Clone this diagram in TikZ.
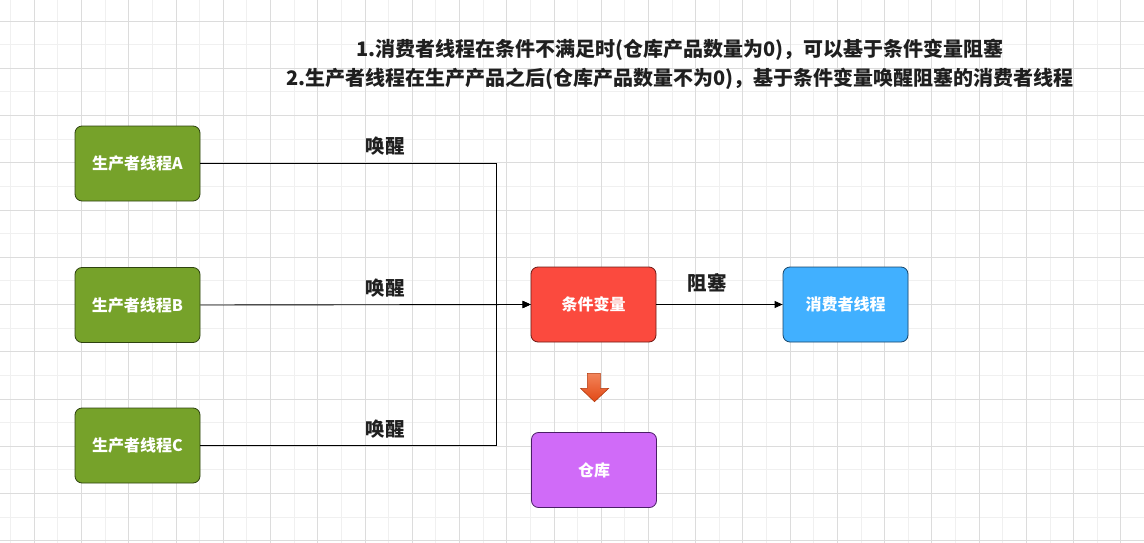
\documentclass[tikz,border=0pt]{standalone}
\usepackage{fontspec}
\setmainfont{Noto Sans CJK SC}
\usetikzlibrary{arrows.meta}
\definecolor{gA}{HTML}{76A22A}
\definecolor{gAb}{HTML}{2E4210}
\definecolor{rC}{HTML}{FB4A3E}
\definecolor{rCb}{HTML}{6E1A16}
\definecolor{bC}{HTML}{41B0FF}
\definecolor{bCb}{HTML}{17456A}
\definecolor{pC}{HTML}{D06BF8}
\definecolor{pCb}{HTML}{4A1E66}
\definecolor{gridlight}{HTML}{F0F0F0}
\definecolor{griddark}{HTML}{DCDCDC}
\definecolor{arrtop}{HTML}{F2845A}
\definecolor{arrbot}{HTML}{E24814}
\definecolor{arrbd}{HTML}{B23A0E}
\tikzset{
  box/.style={draw, rounded corners=7pt, minimum width=125pt, minimum height=75pt,
    line width=0.8pt, text=white, inner sep=0pt,
    font=\fontsize{16}{19}\selectfont\bfseries},
  conn/.style={draw=black, line width=0.9pt},
  tipped/.style={conn, -{Triangle[length=8pt,width=7pt]}},
  lbl/.style={font=\fontsize{19.5}{22}\selectfont\bfseries, text=black!88, inner sep=0pt},
  ttl/.style={font=\fontsize{20}{29}\selectfont\bfseries, text=black!88, inner sep=0pt, align=center}
}
\begin{document}
\begin{tikzpicture}[x=1pt, y=-1pt]
\useasboundingbox (0,0) rectangle (1144,543);
\fill[white] (0,0) rectangle (1144,543);
% grid
\foreach \x in {10.64,34.26,...,1144} \draw[gridlight, line width=0.8pt] (\x,0) -- (\x,543);
\foreach \y in {-2.6,21.02,...,543} \draw[gridlight, line width=0.8pt] (0,\y) -- (1144,\y);
\foreach \x in {34.26,81.50,...,1144} \draw[griddark, line width=0.8pt] (\x,0) -- (\x,543);
\foreach \y in {21.02,68.26,...,543} \draw[griddark, line width=0.8pt] (0,\y) -- (1144,\y);

% title
\node[ttl] (title) at (680,64.5) {1.消费者线程在条件不满足时(仓库产品数量为0)，可以基于条件变量阻塞\\2.生产者线程在生产产品之后(仓库产品数量不为0)，基于条件变量唤醒阻塞的消费者线程};

% nodes
\node[box, fill=gA, draw=gAb] (A) at (137.5,163.5) {生产者线程A};
\node[box, fill=gA, draw=gAb] (B) at (137.5,305) {生产者线程B};
\node[box, fill=gA, draw=gAb] (C) at (137.5,445.5) {生产者线程C};
\node[box, fill=rC, draw=rCb] (cv) at (593.5,304.5) {条件变量};
\node[box, fill=bC, draw=bCb] (cons) at (845.5,304.5) {消费者线程};
\node[box, fill=pC, draw=pCb] (store) at (594,470) {仓库};

\coordinate (j) at (496.5,304.5);

% connectors
\draw[tipped] (A.east) -| (j) -- (cv.west);
\draw[tipped] (C.east) -| (j) -- (cv.west);
\draw[tipped] (B.east) -- (cv.west);
\draw[tipped] (cv.east) -- (cons.west);

% labels
\node[lbl] (l1) at (385,146) {唤醒};
\node[lbl] (l2) at (385,288) {唤醒};
\node[lbl] (l3) at (385,429) {唤醒};
\node[lbl] (l4) at (707,283) {阻塞};

% down arrow
\shade[top color=arrtop, bottom color=arrbot, draw=arrbd, line width=0.6pt]
  (587.3,373.3) -- (600.3,373.3) -- (600.3,388.3) -- (608.7,388.3) -- (594.5,401.7)
  -- (580.5,388.3) -- (587.3,388.3) -- cycle;
\end{tikzpicture}
\end{document}
